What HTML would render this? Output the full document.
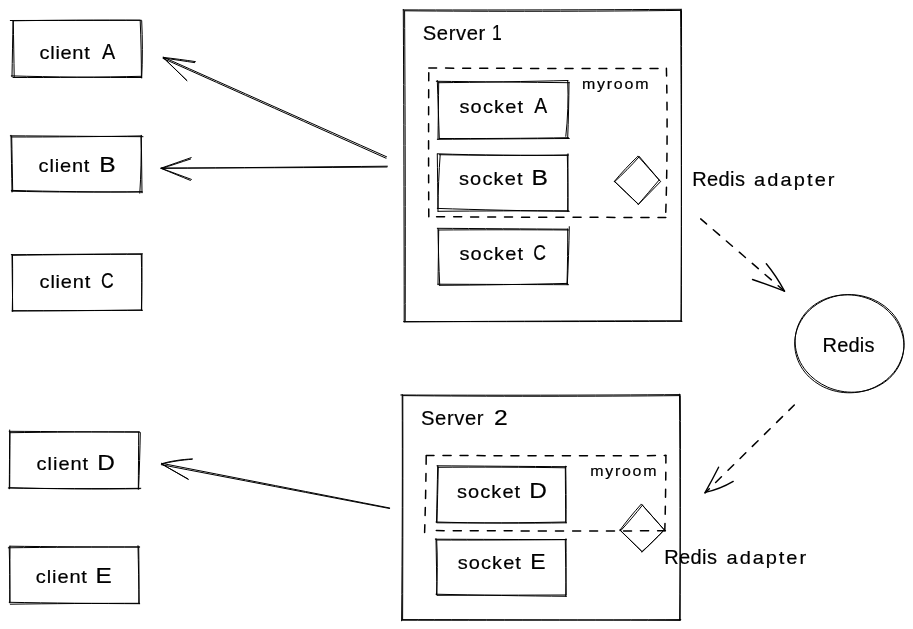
<!DOCTYPE html>
<html lang="en">
<head>
<meta charset="utf-8">
<title>Socket.IO Redis adapter diagram</title>
<style>
html,body{margin:0;padding:0;background:#fff;}
body{width:913px;height:629px;overflow:hidden;}
svg{display:block;will-change:transform;}
svg text{font-family:"Liberation Sans",sans-serif;fill:#000;stroke:#000;stroke-width:0.2px;stroke-linejoin:round;white-space:pre;}
.s{fill:none;stroke:#000;stroke-width:1;stroke-linecap:round;stroke-linejoin:round;}
.d{fill:none;stroke:#000;stroke-width:1.5;stroke-dasharray:8 9;stroke-linecap:round;}
.h{fill:none;stroke:#000;stroke-width:1.4;stroke-linecap:round;stroke-linejoin:round;}
</style>
</head>
<body>
<svg width="913" height="629" viewBox="0 0 913 629">
<rect width="913" height="629" fill="#ffffff"/>
<g class="s">
<g id="client-A">
<path d="M10.3 20.5C49.6 20.44 102 20.36 141.3 20.3"/>
<path d="M13.3 20.8C51.31 20.22 101.99 19.98 140 20.2"/>
<path d="M141.7 20.8C142.6 37.96 142.6 60.84 141.7 78"/>
<path d="M140.2 20.6C140.96 37.67 141.44 60.43 141.4 77.5"/>
<path d="M141.7 77.5C102.58 77.62 50.42 76.98 11.3 75.9"/>
<path d="M141.6 76.3C103.02 77.16 51.58 77.64 13 77.5"/>
<path d="M14.2 77C13.93 60.29 13.57 38.01 13.3 21.3"/>
<path d="M12 76.7C12.3 59.99 12.7 37.71 13 21"/>
</g>
<g id="client-B">
<path d="M10.3 135.8C50.11 136.07 103.19 136.43 143 136.7"/>
<path d="M11.3 137C50.42 137.07 102.58 136.63 141.7 135.9"/>
<path d="M141.3 135.3C141.51 152.55 141.79 175.55 142 192.8"/>
<path d="M141 137C141.44 153.86 140.96 176.34 139.8 193.2"/>
<path d="M142.5 192C103.14 192.12 50.66 191.48 11.3 190.4"/>
<path d="M141.7 191.7C102.7 192.35 50.7 192.15 11.7 191.2"/>
<path d="M12 192C11.7 174.99 11.3 152.31 11 135.3"/>
<path d="M12.7 191C12.4 174.65 12 152.85 11.7 136.5"/>
</g>
<g id="client-C">
<path d="M11.3 254.7C50.66 254.43 103.14 254.07 142.5 253.8"/>
<path d="M12.5 255.3C51.14 254.7 102.66 254.3 141.3 254.3"/>
<path d="M141.3 254.2C141.72 271.03 141.88 293.47 141.7 310.3"/>
<path d="M142 254.5C142.02 271.15 141.78 293.35 141.4 310"/>
<path d="M142.5 310.3C103.35 310.51 51.15 310.79 12 311"/>
<path d="M141.7 310C103 310.51 51.4 310.79 12.7 310.7"/>
<path d="M12.7 311.3C12.49 294.26 12.21 271.54 12 254.5"/>
<path d="M12.3 311C12.66 294.2 12.74 271.8 12.5 255"/>
</g>
<g id="client-D">
<path d="M9.2 431.3C48.35 431.57 100.55 431.93 139.7 432.2"/>
<path d="M10 432.7C48.76 432.13 100.44 431.77 139.2 431.8"/>
<path d="M138.7 432.2C138.58 449.33 138.42 472.17 138.3 489.3"/>
<path d="M140.3 432.6C139.99 449.37 139.31 471.73 138.6 488.5"/>
<path d="M140.8 488.3C101.05 488.81 48.05 488.69 8.3 488"/>
<path d="M140 488.7C100.76 489.3 48.44 488.9 9.2 487.7"/>
<path d="M9.3 488.8C9.42 471.16 9.58 447.64 9.7 430"/>
<path d="M9.7 488C9.79 471.2 9.91 448.8 10 432"/>
</g>
<g id="client-E">
<path d="M8.3 547.8C47.72 547.26 100.28 546.94 139.7 547"/>
<path d="M9.7 546.2C48.55 546.74 100.35 547.06 139.2 547"/>
<path d="M138 545.7C138.36 563.1 138.84 586.3 139.2 603.7"/>
<path d="M138.7 547C139.03 563.8 139.07 586.2 138.8 603"/>
<path d="M139.7 603.7C100.55 603.58 48.35 603.02 9.2 602.3"/>
<path d="M139.2 603.3C100.53 603.27 48.97 603.63 10.3 604.2"/>
<path d="M9.7 602.8C9.79 585.82 9.91 563.18 10 546.2"/>
<path d="M10 602C9.96 585.5 9.64 563.5 9.2 547"/>
</g>
<g id="socket-A">
<path d="M436.3 81.3C476.2 81.72 529.4 82.28 569.3 82.7"/>
<path d="M438.5 82.7C477.35 82.34 529.15 81.46 568 80.5"/>
<path d="M569 82.2C568.91 98.85 568.39 121.05 567.7 137.7"/>
<path d="M567.7 81C568.53 97.59 567.77 119.71 565.8 136.3"/>
<path d="M569.3 138.5C529.7 138.74 476.9 139.06 437.3 139.3"/>
<path d="M568.5 137.7C529.74 138.34 478.06 138.66 439.3 138.5"/>
<path d="M439.3 138.8C438.7 121.31 437.9 97.99 437.3 80.5"/>
<path d="M438 139.3C438.21 122.11 438.49 99.19 438.7 82"/>
</g>
<g id="socket-B">
<path d="M437.3 153.8C476.66 155.16 529.14 155.64 568.5 155"/>
<path d="M439.3 154.7C477.82 155.38 529.18 155.62 567.7 155.3"/>
<path d="M568 153.8C567.91 171.05 567.79 194.05 567.7 211.3"/>
<path d="M567.3 155C567.81 171.8 568.09 194.2 568 211"/>
<path d="M569.3 211.3C529.7 210.93 476.9 209.77 437.3 208.4"/>
<path d="M568.5 210.8C529.35 210.75 477.15 210.95 438 211.3"/>
<path d="M438 211.3C437.79 194.17 437.51 171.33 437.3 154.2"/>
<path d="M438 208.3C438.06 192.22 438.94 170.78 440.2 154.7"/>
</g>
<g id="socket-C">
<path d="M437.3 228.3C476.42 228.57 528.58 228.93 567.7 229.2"/>
<path d="M438.5 230C477.5 229.7 529.5 229.7 568.5 230"/>
<path d="M569.3 226.7C569 244.1 568.2 267.3 567.3 284.7"/>
<path d="M567.7 229C567.79 245.5 567.51 267.5 567 284"/>
<path d="M568.5 284.7C529.35 284.55 477.15 284.35 438 284.2"/>
<path d="M567.7 283.4C529.18 284.37 477.82 285.13 439.3 285.3"/>
<path d="M439.7 285C438.89 268.05 438.21 245.45 438 228.5"/>
<path d="M438 284.7C438.21 268.29 438.49 246.41 438.7 230"/>
</g>
<g id="socket-D">
<path d="M437 465.8C475.85 466.07 527.65 466.43 566.5 466.7"/>
<path d="M438.2 467.3C476.45 466.95 527.45 467.15 565.7 467.8"/>
<path d="M565.7 466.2C566.09 483.18 566.21 505.82 566 522.8"/>
<path d="M565.3 467C565.42 483.5 565.58 505.5 565.7 522"/>
<path d="M566.5 522.8C527.35 523.46 475.15 523.14 436 522"/>
<path d="M565.7 522C527.09 522.84 475.61 523.16 437 522.8"/>
<path d="M436.5 522.3C436.86 505.35 437.34 482.75 437.7 465.8"/>
<path d="M437 522C437.39 505.5 437.91 483.5 438.3 467"/>
</g>
<g id="socket-E">
<path d="M435.3 539.2C474.66 539.35 527.14 539.55 566.5 539.7"/>
<path d="M436.5 540C475.26 540.15 526.94 539.95 565.7 539.5"/>
<path d="M566 538.8C566.21 556.05 566.09 579.05 565.7 596.3"/>
<path d="M565.3 540C565.57 556.5 565.93 578.5 566.2 595"/>
<path d="M566.5 596.3C527.35 595.97 475.15 595.13 436 594.2"/>
<path d="M565.7 595C527.18 595.09 475.82 595.21 437.3 595.3"/>
<path d="M437 595C436.7 578.11 436.3 555.59 436 538.7"/>
<path d="M436.5 594.7C437.46 578.29 437.54 556.41 436.7 540"/>
</g>
<g id="server-1">
<path d="M403.2 9.9C486.72 10.12 598.08 9.88 681.6 9.3"/>
<path d="M404.5 10.8C487.33 11.58 597.77 11.42 680.6 10.4"/>
<path d="M680.6 9.6C681.31 103.2 681.59 228 681.3 321.6"/>
<path d="M681.5 10.5C681.65 103.59 681.45 227.71 681 320.8"/>
<path d="M682 321.3C598.48 321.59 487.12 321.71 403.6 321.6"/>
<path d="M680.6 320.8C597.8 320.83 487.4 321.27 404.6 321.9"/>
<path d="M404.2 322C404.13 228.25 403.77 103.25 403.3 9.5"/>
<path d="M405.2 321C405.42 228 405.18 104 404.6 11"/>
</g>
<g id="server-2">
<path d="M400.8 395C484.62 395.38 596.38 395.22 680.2 394.6"/>
<path d="M402.6 395.6C485.61 396.5 596.29 396.5 679.3 395.6"/>
<path d="M679.5 394.2C680.01 462.12 680.29 552.68 680.2 620.6"/>
<path d="M680.3 395.6C680.59 462.86 680.31 552.54 679.6 619.8"/>
<path d="M680.8 619.6C597.04 620.08 485.36 620.32 401.6 620.2"/>
<path d="M679.6 620.4C596.5 619.96 485.7 619.64 402.6 619.6"/>
<path d="M401.6 620.8C402.28 552.88 402.52 462.32 402.2 394.4"/>
<path d="M402.6 619.6C402.86 552.52 402.94 463.08 402.8 396"/>
</g>
<g id="diamond-1">
<path d="M638 156.2C644.72 163.76 653.68 173.84 660.4 181.4"/>
<path d="M639.2 156.4C645.32 163.6 653.48 173.2 659.6 180.4"/>
<path d="M659 180.2C652.79 187.46 644.51 197.14 638.3 204.4"/>
<path d="M660.4 181.8C653.86 188.52 645.14 197.48 638.6 204.2"/>
<path d="M638.4 204.4C631.17 197.47 621.53 188.23 614.3 181.3"/>
<path d="M638 203.8C631.01 197.11 621.69 188.19 614.7 181.5"/>
<path d="M614.3 181.5C620.85 173.47 630.25 163.43 637.8 156.4"/>
<path d="M614.6 181.7C622.26 174.75 631.94 164.95 638.8 157.2"/>
</g>
<g id="diamond-2">
<path d="M641.6 504.2C648.5 512 657.7 522.4 664.6 530.2"/>
<path d="M642.2 505C648.74 512.38 657.46 522.22 664 529.6"/>
<path d="M664.6 529.6C658 536.2 649.2 545 642.6 551.6"/>
<path d="M663.6 530.6C657.34 537.42 648.46 545.98 641.4 552"/>
<path d="M642 551.6C635.34 545.12 626.46 536.48 619.8 530"/>
<path d="M641.4 551C635.16 544.88 626.84 536.72 620.6 530.6"/>
<path d="M619.8 530.4C625.76 522.2 634.24 511.8 641 504.4"/>
<path d="M620.6 530.8C627.44 523.42 636.16 513.18 642.4 505.2"/>
</g>
<g id="redis">
<path d="M901.66 358.21C900.26 362.26 898.21 366.27 895.69 369.86C893.18 373.44 890.04 376.84 886.57 379.72C883.11 382.6 879.09 385.15 874.92 387.13C870.75 389.1 866.13 390.64 861.53 391.58C856.93 392.52 852.03 392.93 847.31 392.76C842.6 392.6 837.74 391.86 833.24 390.61C828.73 389.36 824.25 387.51 820.26 385.25C816.27 383 812.48 380.18 809.27 377.07C806.07 373.96 803.22 370.35 801.02 366.61C798.82 362.86 797.11 358.72 796.06 354.59C795.02 350.46 794.56 346.06 794.74 341.82C794.92 337.59 795.75 333.24 797.14 329.19C798.54 325.14 800.59 321.13 803.11 317.54C805.62 313.96 808.76 310.56 812.23 307.68C815.69 304.8 819.71 302.25 823.88 300.27C828.05 298.3 832.67 296.76 837.27 295.82C841.87 294.88 846.77 294.47 851.49 294.64C856.2 294.8 861.06 295.54 865.56 296.79C870.07 298.04 874.55 299.89 878.54 302.15C882.53 304.4 886.32 307.22 889.53 310.33C892.73 313.44 895.58 317.05 897.78 320.79C899.98 324.54 901.69 328.68 902.74 332.81C903.78 336.94 904.24 341.34 904.06 345.58C903.88 349.81 903.05 354.16 901.66 358.21"/>
<path d="M868.78 389.81C864.36 391.12 859.59 391.91 854.94 392.14C850.29 392.36 845.46 392.01 840.89 391.17C836.33 390.32 831.75 388.9 827.54 387.07C823.34 385.23 819.27 382.85 815.68 380.15C812.09 377.44 808.75 374.25 805.99 370.83C803.23 367.41 800.84 363.56 799.1 359.63C797.35 355.69 796.11 351.42 795.53 347.21C794.96 343.01 794.98 338.58 795.66 334.39C796.33 330.21 797.68 325.95 799.58 322.1C801.48 318.25 804.08 314.5 807.07 311.28C810.07 308.06 813.71 305.12 817.57 302.77C821.42 300.43 825.81 298.51 830.22 297.19C834.64 295.88 839.41 295.09 844.06 294.86C848.71 294.64 853.54 294.99 858.11 295.83C862.67 296.68 867.25 298.1 871.46 299.93C875.66 301.77 879.73 304.15 883.32 306.85C886.91 309.56 890.25 312.75 893.01 316.17C895.77 319.59 898.16 323.44 899.9 327.37C901.65 331.31 902.89 335.58 903.47 339.79C904.04 343.99 904.02 348.42 903.34 352.61C902.67 356.79 901.32 361.05 899.42 364.9C897.52 368.75 894.92 372.5 891.93 375.72C888.93 378.94 885.29 381.88 881.43 384.23C877.58 386.57 873.19 388.49 868.78 389.81"/>
</g>
<g id="arrow-A">
<path d="M386.6 156.8C319.64 126.92 230.36 87.08 163.4 57.2"/>
<path d="M386 158.2C319.1 128.26 229.9 88.34 163 58.4"/>
<path d="M195.4 61.6C185.74 60.14 172.86 58.46 163.2 57.4"/>
<path d="M194.6 62.6C185.3 61.22 172.9 59.38 163.6 58"/>
<path d="M187 80.7C179.86 73.77 170.34 64.53 163.2 57.6"/>
<path d="M186.6 80.2C179.76 73.54 170.64 64.66 163.8 58"/>
</g>
<g id="arrow-B">
<path d="M387.4 166.2C319.48 166.86 228.92 167.74 161 168.4"/>
<path d="M387 167C319.32 167.6 229.08 168 161.4 168"/>
<path d="M191.2 157.6C182.14 160.78 170.06 165.02 161 168.2"/>
<path d="M190.6 159C181.84 161.88 170.16 165.72 161.4 168.6"/>
<path d="M191.4 179.4C182.28 176.04 170.12 171.56 161 168.2"/>
<path d="M190.4 180.4C181.76 176.86 170.24 172.14 161.6 168.6"/>
</g>
<g id="arrow-D">
<path d="M389.7 508C321.27 494.59 230.03 476.71 161.6 463.3"/>
<path d="M389.5 508.5C321.04 495.36 229.76 477.84 161.3 464.7"/>
<path d="M192.4 458.9C181.63 459.37 169.27 461.33 161.5 463.8"/>
<path d="M192 459.3C181.77 459.94 169.73 461.86 161.9 464.1"/>
<path d="M188.3 479.4C180.26 474.72 169.54 468.48 161.5 463.8"/>
<path d="M188 478.9C180.2 474.52 169.8 468.68 162 464.3"/>
</g>
</g>
<g class="d">
<g id="room-1">
<path d="M428.8 68C500.14 68.42 595.26 68.58 666.6 68.4"/>
<path d="M666.4 68.2C667.56 112.9 667.24 172.5 665.6 217.2"/>
<path d="M665.8 217.4C594.7 217.46 499.9 217.14 428.8 216.6"/>
<path d="M428.8 216.8C428.5 172.16 428.5 112.64 428.8 68"/>
</g>
<g id="room-2">
<path d="M426.2 455.5C498.08 455.73 593.92 455.77 665.8 455.6"/>
<path d="M665.9 455.2C665.87 477.88 665.43 508.12 664.8 530.8"/>
<path d="M665.4 530.8C595.68 531.04 502.72 530.96 433 530.6"/>
<path d="M424.6 532.4C425.38 509.33 426.02 478.57 426.2 455.5"/>
</g>
<g id="link-1">
<path d="M700.7 218.9C725.84 240.59 759.36 269.51 784.5 291.2"/>
</g>
<g id="link-2">
<path d="M794.3 405C767.51 431.4 731.79 466.6 705 493"/>
</g>
</g>
<g class="h">
<g id="arrowhead-R1">
<path d="M752.5 279.5Q770 285.5 784.5 291.2"/>
<path d="M766.3 263.8Q776 275.5 784.5 291.2"/>
</g>
<g id="arrowhead-R2">
<path d="M718.6 467.2Q712.6 479 705.2 492.4"/>
<path d="M733.2 481.4Q720 489.2 705.2 492.4"/>
</g>
</g>
<g class="t">
<g><text transform="translate(39.62 59.1) scale(1.100 1)" font-size="18.2" letter-spacing="0.61">client</text> <text transform="translate(101.88 59.1) scale(0.900 1)" font-size="22">A</text></g>
<g><text transform="translate(38.62 171.7) scale(1.100 1)" font-size="18.2" letter-spacing="0.74">client</text> <text transform="translate(99.33 171.7) scale(1.120 1)" font-size="22">B</text></g>
<g><text transform="translate(39.62 287.7) scale(1.100 1)" font-size="18.2" letter-spacing="0.7">client</text> <text transform="translate(101.07 287.7) scale(0.800 1)" font-size="22">C</text></g>
<g><text transform="translate(36.62 469.9) scale(1.100 1)" font-size="18.2" letter-spacing="0.88">client</text> <text transform="translate(97.27 469.9) scale(1.110 1)" font-size="22">D</text></g>
<g><text transform="translate(35.87 582.7) scale(1.100 1)" font-size="18.2" letter-spacing="0.79">client</text> <text transform="translate(95.53 582.7) scale(1.107 1)" font-size="22">E</text></g>
<g><text transform="translate(422.74 39.6) scale(1.010 1)" font-size="20" letter-spacing="0.6">Server</text> <text transform="translate(491.94 39.6) scale(0.800 1)" font-size="22">1</text></g>
<g><text transform="translate(420.99 425.1) scale(1.010 1)" font-size="20" letter-spacing="0.6">Server</text> <text transform="translate(494.03 425.1) scale(1.120 1)" font-size="22">2</text></g>
<g><text transform="translate(459.38 113.3) scale(1.100 1)" font-size="18.2" letter-spacing="1.08">socket</text> <text transform="translate(534.13 113.3) scale(0.883 1)" font-size="22">A</text></g>
<g><text transform="translate(458.88 184.8) scale(1.100 1)" font-size="18.2" letter-spacing="1.08">socket</text> <text transform="translate(531.46 184.8) scale(1.120 1)" font-size="22">B</text></g>
<g><text transform="translate(459.38 259.6) scale(1.100 1)" font-size="18.2" letter-spacing="1.08">socket</text> <text transform="translate(533.19 259.6) scale(0.800 1)" font-size="22">C</text></g>
<g><text transform="translate(456.88 498) scale(1.100 1)" font-size="18.2" letter-spacing="0.99">socket</text> <text transform="translate(529.27 498) scale(1.110 1)" font-size="22">D</text></g>
<g><text transform="translate(457.63 569) scale(1.100 1)" font-size="18.2" letter-spacing="0.99">socket</text> <text transform="translate(530.14 569) scale(1.044 1)" font-size="22">E</text></g>
<g><text transform="translate(581.88 89) scale(1.100 1)" font-size="14.5" letter-spacing="1.64">myroom</text></g>
<g><text transform="translate(590.13 476.3) scale(1.100 1)" font-size="14.5" letter-spacing="1.6">myroom</text></g>
<g><text transform="translate(692.13 186.1) scale(1.000 1)" font-size="20" letter-spacing="0.43">Redis</text> <text transform="translate(754.12 186.1) scale(1.100 1)" font-size="18.2" letter-spacing="1.9">adapter</text></g>
<g><text transform="translate(664.13 564) scale(1.000 1)" font-size="20" letter-spacing="0.43">Redis</text> <text transform="translate(726.62 564) scale(1.100 1)" font-size="18.2" letter-spacing="1.75">adapter</text></g>
<g><text transform="translate(822.48 351.5) scale(1.000 1)" font-size="20" letter-spacing="0.23">Redis</text></g>
</g>
</svg>
</body>
</html>
